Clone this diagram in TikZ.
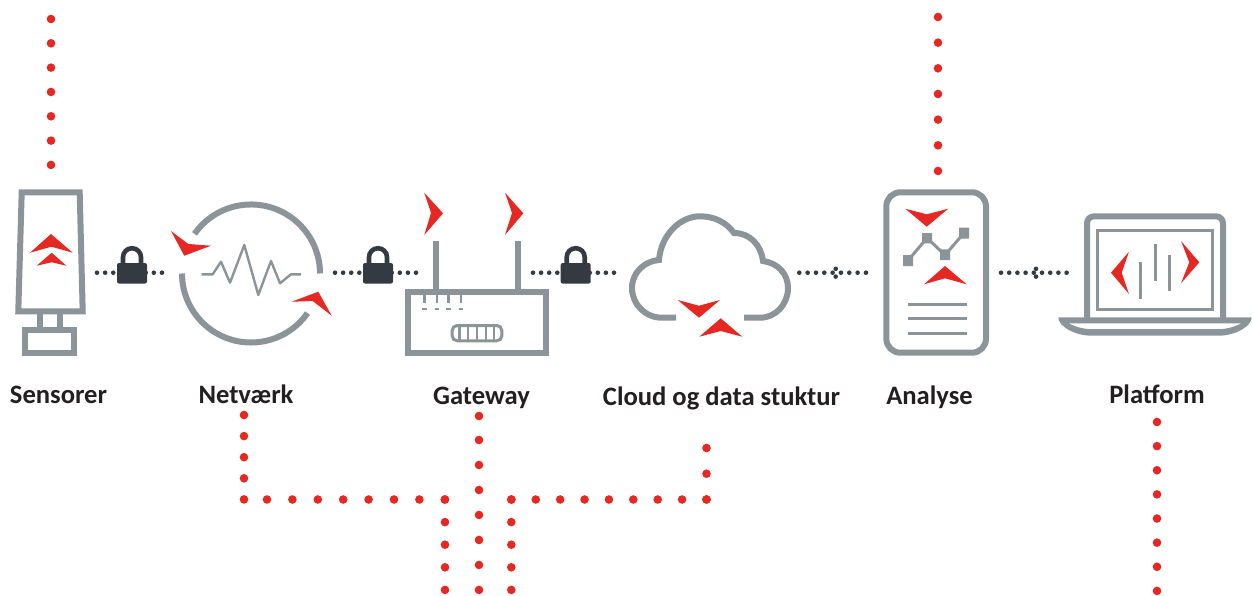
\documentclass[tikz,border=0pt]{standalone}
\usepackage{fontspec}
\setmainfont{Carlito}
\definecolor{icongray}{HTML}{8A9499}
\definecolor{dotred}{HTML}{E52822}
\definecolor{lockdark}{HTML}{333A42}
\definecolor{labelink}{HTML}{231F20}
\tikzset{
  icon/.style={draw=icongray,line width=6pt,line join=miter},
  thinicon/.style={draw=icongray,line width=3pt},
  hairicon/.style={draw=icongray,line width=2.4pt},
  flag/.style={fill=dotred,draw=none},
  lbl/.style={font=\bfseries\fontsize{26.6}{30}\selectfont,text=labelink,inner sep=0pt,anchor=base},
  rdots/.style={draw=dotred,line width=8.6pt,line cap=round,dash pattern=on 0pt off #1pt},
  kdots/.style={draw=lockdark,line width=4.6pt,line cap=round,dash pattern=on 0pt off #1pt},
  lockbow/.style={draw=lockdark,line width=4.6pt}
}
\newcommand{\padlock}[1]{%
  \begin{scope}[shift={(#1)}]
    \draw[lockbow] (-9,-8) -- (-9,-15.5) arc[start angle=180,end angle=360,radius=9] -- (9,-8);
    \fill[lockdark,rounded corners=2pt] (-15,-9.7) rectangle (15,10.8);
  \end{scope}}
\newcommand{\fork}[1]{%
  \begin{scope}[shift={(#1)}]
    \fill[lockdark] (0,-3.9) circle (2.3) (0,3.9) circle (2.3);
  \end{scope}}
\begin{document}
\begin{tikzpicture}[x=1pt,y=-1pt]
\useasboundingbox (0,0) rectangle (1253,595);

% ---- free ends of the dotted red lines
\coordinate (sTop) at (51,19);   \coordinate (sEnd) at (51,165);
\coordinate (aTop) at (938,17);  \coordinate (aEnd) at (938,171);
\coordinate (pTop) at (1157,422);\coordinate (pEnd) at (1157,591);
\coordinate (nA) at (244,415);   \coordinate (nB) at (244,499.5);
\coordinate (nB2) at (267,499.5);
\coordinate (nC) at (445,499.5); \coordinate (nD) at (445,590);
\coordinate (gA) at (479,416);   \coordinate (gA2) at (479,440); \coordinate (gB) at (479,590);
\coordinate (cA) at (706.5,448); \coordinate (cB) at (706.5,499.5);
\coordinate (cC) at (511.3,499.5);\coordinate (cD) at (511.3,590);

\draw[rdots=24.32] (sTop) -- (sEnd);
\draw[rdots=25.66] (aTop) -- (aEnd);
\draw[rdots=24.13] (pTop) -- (pEnd);
\draw[rdots=21.1] (nA) -- (nB);
\draw[rdots=25.4] (nB2) -- (nC);
\draw[rdots=22.6] (nC) -- (nD);
\draw[rdots=100] (gA) -- (gA2);
\draw[rdots=24.99] (gA2) -- (gB);
\draw[rdots=25.7] (cA) -- (cB);
\draw[rdots=24.39] (cB) -- (cC);
\draw[rdots=22.6] (cC) -- (cD);

% ---- dark dotted links
\coordinate (l1a) at (97,272.7); \coordinate (l1b) at (162.1,272.7);
\coordinate (l2a) at (335,272.7);\coordinate (l2b) at (416.1,272.7);
\coordinate (l3a) at (533,272.7);\coordinate (l3b) at (614.1,272.7);
\coordinate (l4a) at (799.3,272.7);\coordinate (l4b) at (866.1,272.7);
\coordinate (l5a) at (1001,272.7);\coordinate (l5b) at (1066.8,272.7);
\draw[kdots=8.12] (l1a) -- (l1b);
\draw[kdots=8.1] (l2a) -- (l2b);
\draw[kdots=8.1] (l3a) -- (l3b);
\draw[kdots=8.33] (l4a) -- (l4b);
\draw[kdots=8.2] (l5a) -- (l5b);
\padlock{132,272.7}
\padlock{378,272.7}
\padlock{575.7,272.7}
\fork{835.7,272.7}
\fork{1036,272.7}

% ---- sensor
\draw[icon] (21.7,192.3) -- (79.7,192.3) -- (82.7,311.3) -- (18.3,311.3) -- cycle;
\draw[icon] (39.7,311.3) -- (39.7,330.3) (59.7,311.3) -- (59.7,330.3);
\draw[icon] (24.7,330.3) rectangle (73.7,352.7);
\fill[flag] (51,234) -- (72.7,252.7) -- (51.5,246.7) -- (30,252.7) -- cycle;
\fill[flag] (51.7,252.7) -- (66.3,265.7) -- (51.7,262.3) -- (36.7,265.7) -- cycle;

% ---- network
\draw[icon] (194.5,233.9) arc[start angle=215,end angle=360,radius=69];
\draw[icon] (182,273.5) arc[start angle=180,end angle=35,radius=69];
\draw[hairicon,line join=round] (201.7,274.3) -- (212.7,274.3) -- (221,261.7) -- (230,282.7) -- (244.3,245) -- (258.3,295) -- (271,261) -- (280,283.3) -- (291,274.3) -- (301,274.3);
\fill[flag] (171,231) -- (188.3,244) -- (211,245.7) -- (184.3,255.7) -- cycle;
\fill[flag] (291.7,301.7) -- (318.3,291.7) -- (331.7,315.7) -- (312.7,301) -- cycle;

% ---- gateway
\draw[icon] (408,292) rectangle (546.3,352.7);
\draw[icon] (436.3,241) -- (436.3,292) (517.7,241) -- (517.7,292);
\draw[hairicon] (424.3,295) -- (424.3,302.7) (436.7,295) -- (436.7,302.7) (448.3,295) -- (448.3,302.7) (460.7,295) -- (460.7,302.7);
\draw[hairicon] (422,309) -- (426.5,309) (434.5,309) -- (439,309) (446,309) -- (450.5,309) (458.5,309) -- (463,309);
\draw[thinicon,rounded corners=5pt] (452.2,325.5) rectangle (501.8,340.8);
\draw[hairicon] (459.3,325.5) -- (459.3,340.8) (467.7,325.5) -- (467.7,340.8) (476.7,325.5) -- (476.7,340.8) (485.7,325.5) -- (485.7,340.8) (494,325.5) -- (494,340.8);
\fill[flag] (424.3,192.7) -- (443,213.3) -- (424.3,235) -- (431,213) -- cycle;
\fill[flag] (505,192.7) -- (523.3,213.3) -- (505,235) -- (512,213) -- cycle;

% ---- cloud
\draw[icon] (676,317.7) -- (662,317.7) .. controls (645,317.7) and (632,304) .. (632,288)
  .. controls (632,272) and (645,261) .. (659,260)
  .. controls (661,235) and (680,216.3) .. (700,216.3)
  .. controls (714,216.3) and (726,222) .. (734,233)
  .. controls (750,233) and (761,245) .. (763,261)
  .. controls (778,263) and (788,274) .. (788,288)
  .. controls (788,304) and (776,317.7) .. (760,317.7) -- (744,317.7);
\fill[flag] (677.7,300) -- (699,305.7) -- (720,300) -- (699,317.7) -- cycle;
\fill[flag] (720.7,318.3) -- (742.3,336.7) -- (720.7,331) -- (699.3,336.7) -- cycle;

% ---- analysis (tablet)
\draw[icon,rounded corners=14pt] (886.3,192.3) rectangle (986,352.7);
\draw[draw=icongray,line width=3pt] (908,260.5) -- (927,238) -- (945,255) -- (964,233);
\fill[icongray] (903,255) rectangle (913,266) (922,233) rectangle (932,243.3) (940,249.3) rectangle (950,260) (959,227.7) rectangle (969,238.7);
\fill[flag] (905.3,208.7) -- (926.7,214.3) -- (948.3,208.7) -- (926.7,226.7) -- cycle;
\fill[flag] (945,266) -- (966.7,284.3) -- (945,278.3) -- (924,284.3) -- cycle;
\draw[thinicon] (908,304.3) -- (966.7,304.3) (908,318.7) -- (966.7,318.7) (908,333) -- (966.7,333);

% ---- platform (laptop)
\draw[icon,rounded corners=7pt] (1087,320) -- (1087,216.3) -- (1223,216.3) -- (1223,320);
\draw[thinicon] (1097.5,230) rectangle (1212.8,309.5);
\fill[icongray,even odd rule] (1058.3,317.3) -- (1251.7,317.3) .. controls (1251.7,326) and (1236,335.7) .. (1218,335.7) -- (1092,335.7) .. controls (1074,335.7) and (1058.3,326) .. (1058.3,317.3) -- cycle
  (1068.3,323.3) -- (1241.7,323.3) .. controls (1236,326) and (1228,329.2) .. (1218,329.2) -- (1092,329.2) .. controls (1082,329.2) and (1074,326) .. (1068.3,323.3) -- cycle;
\draw[thinicon] (1140.3,262.3) -- (1140.3,298.7) (1155,244) -- (1155,280.7) (1169.3,255) -- (1169.3,291);
\fill[flag] (1111,272.7) -- (1129,251.7) -- (1121.7,272.7) -- (1129,294) -- cycle;
\fill[flag] (1199.3,262.3) -- (1181,241) -- (1189.3,262.3) -- (1181,283.3) -- cycle;

% ---- labels
\node[lbl] (t1) at (58.5,403.8) {Sensorer};
\node[lbl] (t2) at (246,403.8) {Netværk};
\node[lbl] (t3) at (481.5,404.5) {Gateway};
\node[lbl] (t4) at (721.5,405.3) {Cloud og data stuktur};
\node[lbl] (t5) at (929.5,404.3) {Analyse};
\node[lbl] (t6) at (1157,403.8) {Platform};
\end{tikzpicture}
\end{document}
